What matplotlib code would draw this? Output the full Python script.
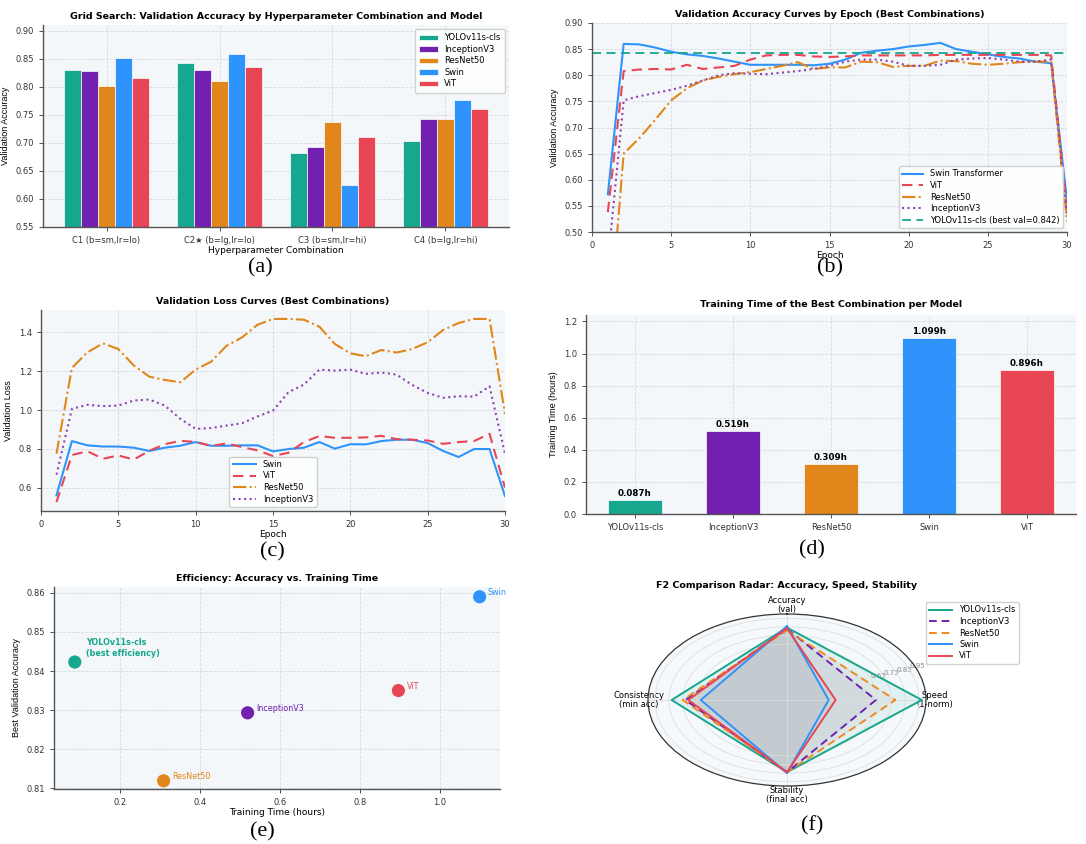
import numpy as np
import matplotlib
matplotlib.use("Agg")
import matplotlib.pyplot as plt

# ---------------- data ----------------
models = ["YOLOv11s-cls", "InceptionV3", "ResNet50", "Swin", "ViT"]
colors = ["#17a68e", "#7220b0", "#e0861a", "#2e93fa", "#e84555"]

combos = ["C1 (b=sm,lr=lo)", "C2\u2605 (b=lg,lr=lo)", "C3 (b=sm,lr=hi)", "C4 (b=lg,lr=hi)"]
grid_yolo = [0.830, 0.842, 0.682, 0.703]
grid_incep = [0.828, 0.829, 0.692, 0.743]
grid_resnet = [0.802, 0.811, 0.738, 0.743]
grid_swin = [0.852, 0.859, 0.624, 0.776]
grid_vit = [0.816, 0.835, 0.711, 0.761]

epochs = list(range(1, 31))
acc_swin = [0.572, 0.860, 0.859, 0.853, 0.845, 0.840, 0.837, 0.832, 0.826, 0.820,
            0.820, 0.820, 0.820, 0.819, 0.822, 0.830, 0.843, 0.847, 0.850, 0.855,
            0.858, 0.862, 0.850, 0.845, 0.840, 0.835, 0.832, 0.826, 0.823, 0.560]
acc_vit = [0.538, 0.808, 0.811, 0.812, 0.811, 0.820, 0.812, 0.815, 0.818, 0.830,
           0.838, 0.839, 0.839, 0.836, 0.835, 0.836, 0.838, 0.838, 0.838, 0.838,
           0.838, 0.839, 0.839, 0.839, 0.839, 0.839, 0.839, 0.839, 0.838, 0.540]
acc_resnet = [0.280, 0.650, 0.680, 0.715, 0.752, 0.775, 0.790, 0.797, 0.802, 0.806,
              0.812, 0.818, 0.825, 0.812, 0.815, 0.815, 0.826, 0.825, 0.816, 0.818,
              0.818, 0.828, 0.827, 0.822, 0.820, 0.822, 0.825, 0.826, 0.826, 0.520]
acc_incep = [0.440, 0.752, 0.760, 0.766, 0.772, 0.780, 0.790, 0.800, 0.804, 0.803,
             0.802, 0.805, 0.808, 0.812, 0.818, 0.826, 0.830, 0.830, 0.826, 0.818,
             0.818, 0.820, 0.830, 0.832, 0.833, 0.830, 0.826, 0.826, 0.830, 0.530]
yolo_best_val = 0.842

loss_swin = [0.561, 0.840, 0.818, 0.812, 0.812, 0.806, 0.789, 0.806, 0.816, 0.835,
             0.816, 0.816, 0.818, 0.818, 0.787, 0.799, 0.806, 0.835, 0.801, 0.824,
             0.823, 0.840, 0.847, 0.847, 0.830, 0.789, 0.758, 0.799, 0.799, 0.557]
loss_vit = [0.526, 0.768, 0.788, 0.749, 0.766, 0.745, 0.790, 0.824, 0.841, 0.836,
            0.815, 0.828, 0.809, 0.792, 0.763, 0.780, 0.835, 0.866, 0.857, 0.857,
            0.859, 0.867, 0.850, 0.847, 0.843, 0.826, 0.835, 0.840, 0.878, 0.600]
loss_resnet = [0.775, 1.217, 1.297, 1.343, 1.314, 1.229, 1.172, 1.155, 1.143, 1.208,
               1.249, 1.331, 1.374, 1.439, 1.469, 1.469, 1.465, 1.429, 1.340, 1.292,
               1.277, 1.309, 1.296, 1.314, 1.349, 1.412, 1.448, 1.469, 1.469, 0.980]
loss_incep = [0.667, 1.006, 1.027, 1.020, 1.023, 1.049, 1.054, 1.023, 0.955, 0.903,
              0.907, 0.920, 0.932, 0.967, 0.997, 1.092, 1.131, 1.208, 1.203, 1.208,
              1.186, 1.193, 1.182, 1.129, 1.088, 1.063, 1.071, 1.069, 1.122, 0.775]

train_hours = [0.087, 0.519, 0.309, 1.099, 0.896]
best_acc = [0.8423, 0.8293, 0.8119, 0.8590, 0.8350]

radar_axes = ["Accuracy\n(val)", "Speed\n(1-norm)", "Stability\n(final acc)", "Consistency\n(min acc)"]
radar_yolo = [0.842, 0.97, 0.84, 0.83]
radar_incep = [0.829, 0.64, 0.84, 0.73]
radar_resnet = [0.812, 0.78, 0.84, 0.75]
radar_swin = [0.859, 0.30, 0.85, 0.62]
radar_vit = [0.835, 0.35, 0.84, 0.71]

# ---------------- style ----------------
W, H = 1086, 844
fig = plt.figure(figsize=(W / 100, H / 100), dpi=100)
fig.patch.set_facecolor("white")
BG = "#f4f7fa"
TICK_FS = 6.0
LAB_FS = 6.5
TITLE_FS = 6.8


def box(l, t, r, b):
    return [l / W, 1 - b / H, (r - l) / W, (b - t) / H]


def style(ax):
    ax.set_facecolor(BG)
    for s in ["top", "right"]:
        ax.spines[s].set_visible(False)
    for s in ["left", "bottom"]:
        ax.spines[s].set_color("#555555")
        ax.spines[s].set_linewidth(1.0)
    ax.grid(True, linestyle="--", color="#d5d9de", linewidth=0.6)
    ax.set_axisbelow(True)
    ax.tick_params(labelsize=TICK_FS, colors="#333333", length=3, width=0.6)


def caption(x, y, s):
    fig.text(x / W, 1 - y / H, s, fontsize=16, family="Liberation Serif",
             ha="center", va="center")


# ---------------- (a) grouped bars ----------------
ax = fig.add_axes(box(43, 25, 509, 227))
style(ax)
x = np.arange(len(combos))
bw = 0.15
series = [grid_yolo, grid_incep, grid_resnet, grid_swin, grid_vit]
for i, (vals, c, m) in enumerate(zip(series, colors, models)):
    ax.bar(x + (i - 2) * bw, vals, bw, color=c, label=m, edgecolor="white", linewidth=0.5)
ax.set_ylim(0.55, 0.91)
ax.set_yticks(np.arange(0.55, 0.901, 0.05))
ax.set_xticks(x)
ax.set_xticklabels(combos)
ax.set_title("Grid Search: Validation Accuracy by Hyperparameter Combination and Model",
             fontsize=TITLE_FS, fontweight="bold", pad=4)
ax.set_xlabel("Hyperparameter Combination", fontsize=LAB_FS, labelpad=1)
ax.set_ylabel("Validation Accuracy", fontsize=LAB_FS, family="Liberation Sans")
ax.legend(loc="upper right", fontsize=6, framealpha=0.9, handlelength=2.2,
          borderpad=0.5, labelspacing=0.3)
caption(260, 268, "(a)")

# ---------------- (b) accuracy curves ----------------
ax = fig.add_axes(box(592, 23, 1067, 232))
style(ax)
ax.plot(epochs, acc_swin, color=colors[3], lw=1.5, ls="-", label="Swin Transformer")
ax.plot(epochs, acc_vit, color=colors[4], lw=1.5, ls=(0, (5, 3)), label="ViT")
ax.plot(epochs, acc_resnet, color=colors[2], lw=1.5, ls="-.", label="ResNet50")
ax.plot(epochs, acc_incep, color="#8e44ad", lw=1.5, ls=":", label="InceptionV3")
ax.axhline(yolo_best_val, color=colors[0], lw=1.3, ls=(0, (5, 3)),
           label=f"YOLOv11s-cls (best val={yolo_best_val:.3f})")
ax.set_xlim(0, 30)
ax.set_ylim(0.5, 0.9)
ax.set_title("Validation Accuracy Curves by Epoch (Best Combinations)",
             fontsize=TITLE_FS, fontweight="bold", pad=4)
ax.set_xlabel("Epoch", fontsize=LAB_FS, labelpad=1)
ax.set_ylabel("Validation Accuracy", fontsize=LAB_FS, family="Liberation Sans")
ax.legend(loc="lower right", fontsize=6, framealpha=0.9, borderpad=0.4,
          labelspacing=0.3, handlelength=2.5)
caption(830, 268, "(b)")

# ---------------- (c) loss curves ----------------
ax = fig.add_axes(box(41, 310, 505, 511))
style(ax)
ax.plot(epochs, loss_swin, color=colors[3], lw=1.5, ls="-", label="Swin")
ax.plot(epochs, loss_vit, color=colors[4], lw=1.5, ls=(0, (5, 3)), label="ViT")
ax.plot(epochs, loss_resnet, color=colors[2], lw=1.5, ls="-.", label="ResNet50")
ax.plot(epochs, loss_incep, color="#8e44ad", lw=1.5, ls=":", label="InceptionV3")
ax.set_xlim(0, 30)
ax.set_ylim(0.48, 1.515)
ax.set_yticks([0.6, 0.8, 1.0, 1.2, 1.4])
ax.set_title("Validation Loss Curves (Best Combinations)",
             fontsize=TITLE_FS, fontweight="bold", pad=4)
ax.set_xlabel("Epoch", fontsize=LAB_FS, labelpad=1)
ax.set_ylabel("Validation Loss", fontsize=LAB_FS, family="Liberation Sans")
ax.legend(loc="lower center", fontsize=6, framealpha=0.9, borderpad=0.4,
          labelspacing=0.3, handlelength=2.8)
caption(272, 552, "(c)")

# ---------------- (d) training time bars ----------------
ax = fig.add_axes(box(586, 315, 1076, 514))
style(ax)
xb = np.arange(len(models))
bars = ax.bar(xb, train_hours, 0.55, color=colors, edgecolor="white", linewidth=0.5)
for b, v in zip(bars, train_hours):
    ax.text(b.get_x() + b.get_width() / 2, v + 0.012, f"{v:.3f}h", ha="center",
            va="bottom", fontsize=6.3, fontweight="bold")
ax.set_xticks(xb)
ax.set_xticklabels(models)
ax.set_xlim(-0.5, 4.5)
ax.set_ylim(0, 1.24)
ax.set_yticks(np.arange(0, 1.21, 0.2))
ax.set_title("Training Time of the Best Combination per Model",
             fontsize=TITLE_FS, fontweight="bold", pad=6)
ax.set_ylabel("Training Time (hours)", fontsize=LAB_FS, family="Liberation Sans")
caption(812, 550, "(d)")

# ---------------- (e) efficiency scatter ----------------
ax = fig.add_axes(box(54, 587, 500, 789))
style(ax)
for i, m in enumerate(models):
    ax.scatter(train_hours[i], best_acc[i], s=90, color=colors[i], zorder=3,
               edgecolor="none")
    if i == 0:
        ax.annotate("YOLOv11s-cls\n(best efficiency)", (train_hours[i], best_acc[i]),
                    xytext=(8, 3), textcoords="offset points", fontsize=5.8,
                    fontweight="bold", color=colors[i], va="bottom")
    else:
        ax.annotate(m, (train_hours[i], best_acc[i]), xytext=(6, 0),
                    textcoords="offset points", fontsize=5.8, color=colors[i],
                    va="bottom")
ax.set_xlim(0.035, 1.15)
ax.set_ylim(0.8098, 0.8615)
ax.set_xticks([0.2, 0.4, 0.6, 0.8, 1.0])
ax.set_yticks([0.81, 0.82, 0.83, 0.84, 0.85, 0.86])
ax.set_title("Efficiency: Accuracy vs. Training Time",
             fontsize=TITLE_FS, fontweight="bold", pad=4)
ax.set_xlabel("Training Time (hours)", fontsize=LAB_FS, labelpad=1)
ax.set_ylabel("Best Validation Accuracy", fontsize=LAB_FS, family="Liberation Sans")
caption(262, 832, "(e)")

# ---------------- (f) radar ----------------
ax = fig.add_axes(box(648, 614, 926, 786), projection="polar")
ax.set_aspect("auto")
ax.set_facecolor("#f6f9fb")
ax.set_theta_offset(np.pi / 2)
ax.set_theta_direction(-1)
angles = np.linspace(0, 2 * np.pi, len(radar_axes), endpoint=False)
closed = np.concatenate([angles, angles[:1]])
radar_series = [radar_yolo, radar_incep, radar_resnet, radar_swin, radar_vit]
radar_styles = ["-", (0, (4, 2.5)), (0, (4, 2.5)), "-", "-"]
radar_colors = [colors[0], colors[1], "#ee8a22", colors[3], colors[4]]
radar_fill = ["#17a68e", "#7a6a8a", "#9a8a80", "#6a8aa8", "#a07a80"]
for vals, c, fc, ls, m in zip(radar_series, radar_colors, radar_fill, radar_styles, models):
    v = np.concatenate([vals, vals[:1]])
    ax.plot(closed, v, color=c, lw=1.4, ls=ls, label=m)
    ax.fill(closed, v, color=fc, alpha=0.09)
ax.set_ylim(0, 1.0)
ax.set_yticks([0.65, 0.75, 0.85, 0.95])
ax.set_yticklabels(["0.65", "0.75", "0.85", "0.95"], fontsize=5, color="#888888")
ax.set_rlabel_position(68)
ax.set_xticks(angles)
ax.set_xticklabels(radar_axes, fontsize=6.0, linespacing=0.95)
ax.tick_params(axis="x", pad=-4)
ax.grid(True, color="#dddddd", linewidth=0.6, linestyle="-")
ax.spines["polar"].set_color("#333333")
ax.spines["polar"].set_linewidth(0.9)
fig.text(787 / W, 1 - 586 / H, "F2 Comparison Radar: Accuracy, Speed, Stability",
         fontsize=TITLE_FS, fontweight="bold", ha="center", va="center")
ax.legend(loc="upper right", bbox_to_anchor=(1023 / W, 1 - 598 / H),
          bbox_transform=fig.transFigure, fontsize=6, framealpha=0.9,
          borderpad=0.4, labelspacing=0.3, handlelength=2.8)
caption(812, 826, "(f)")

fig.savefig("out.png", dpi=100)
